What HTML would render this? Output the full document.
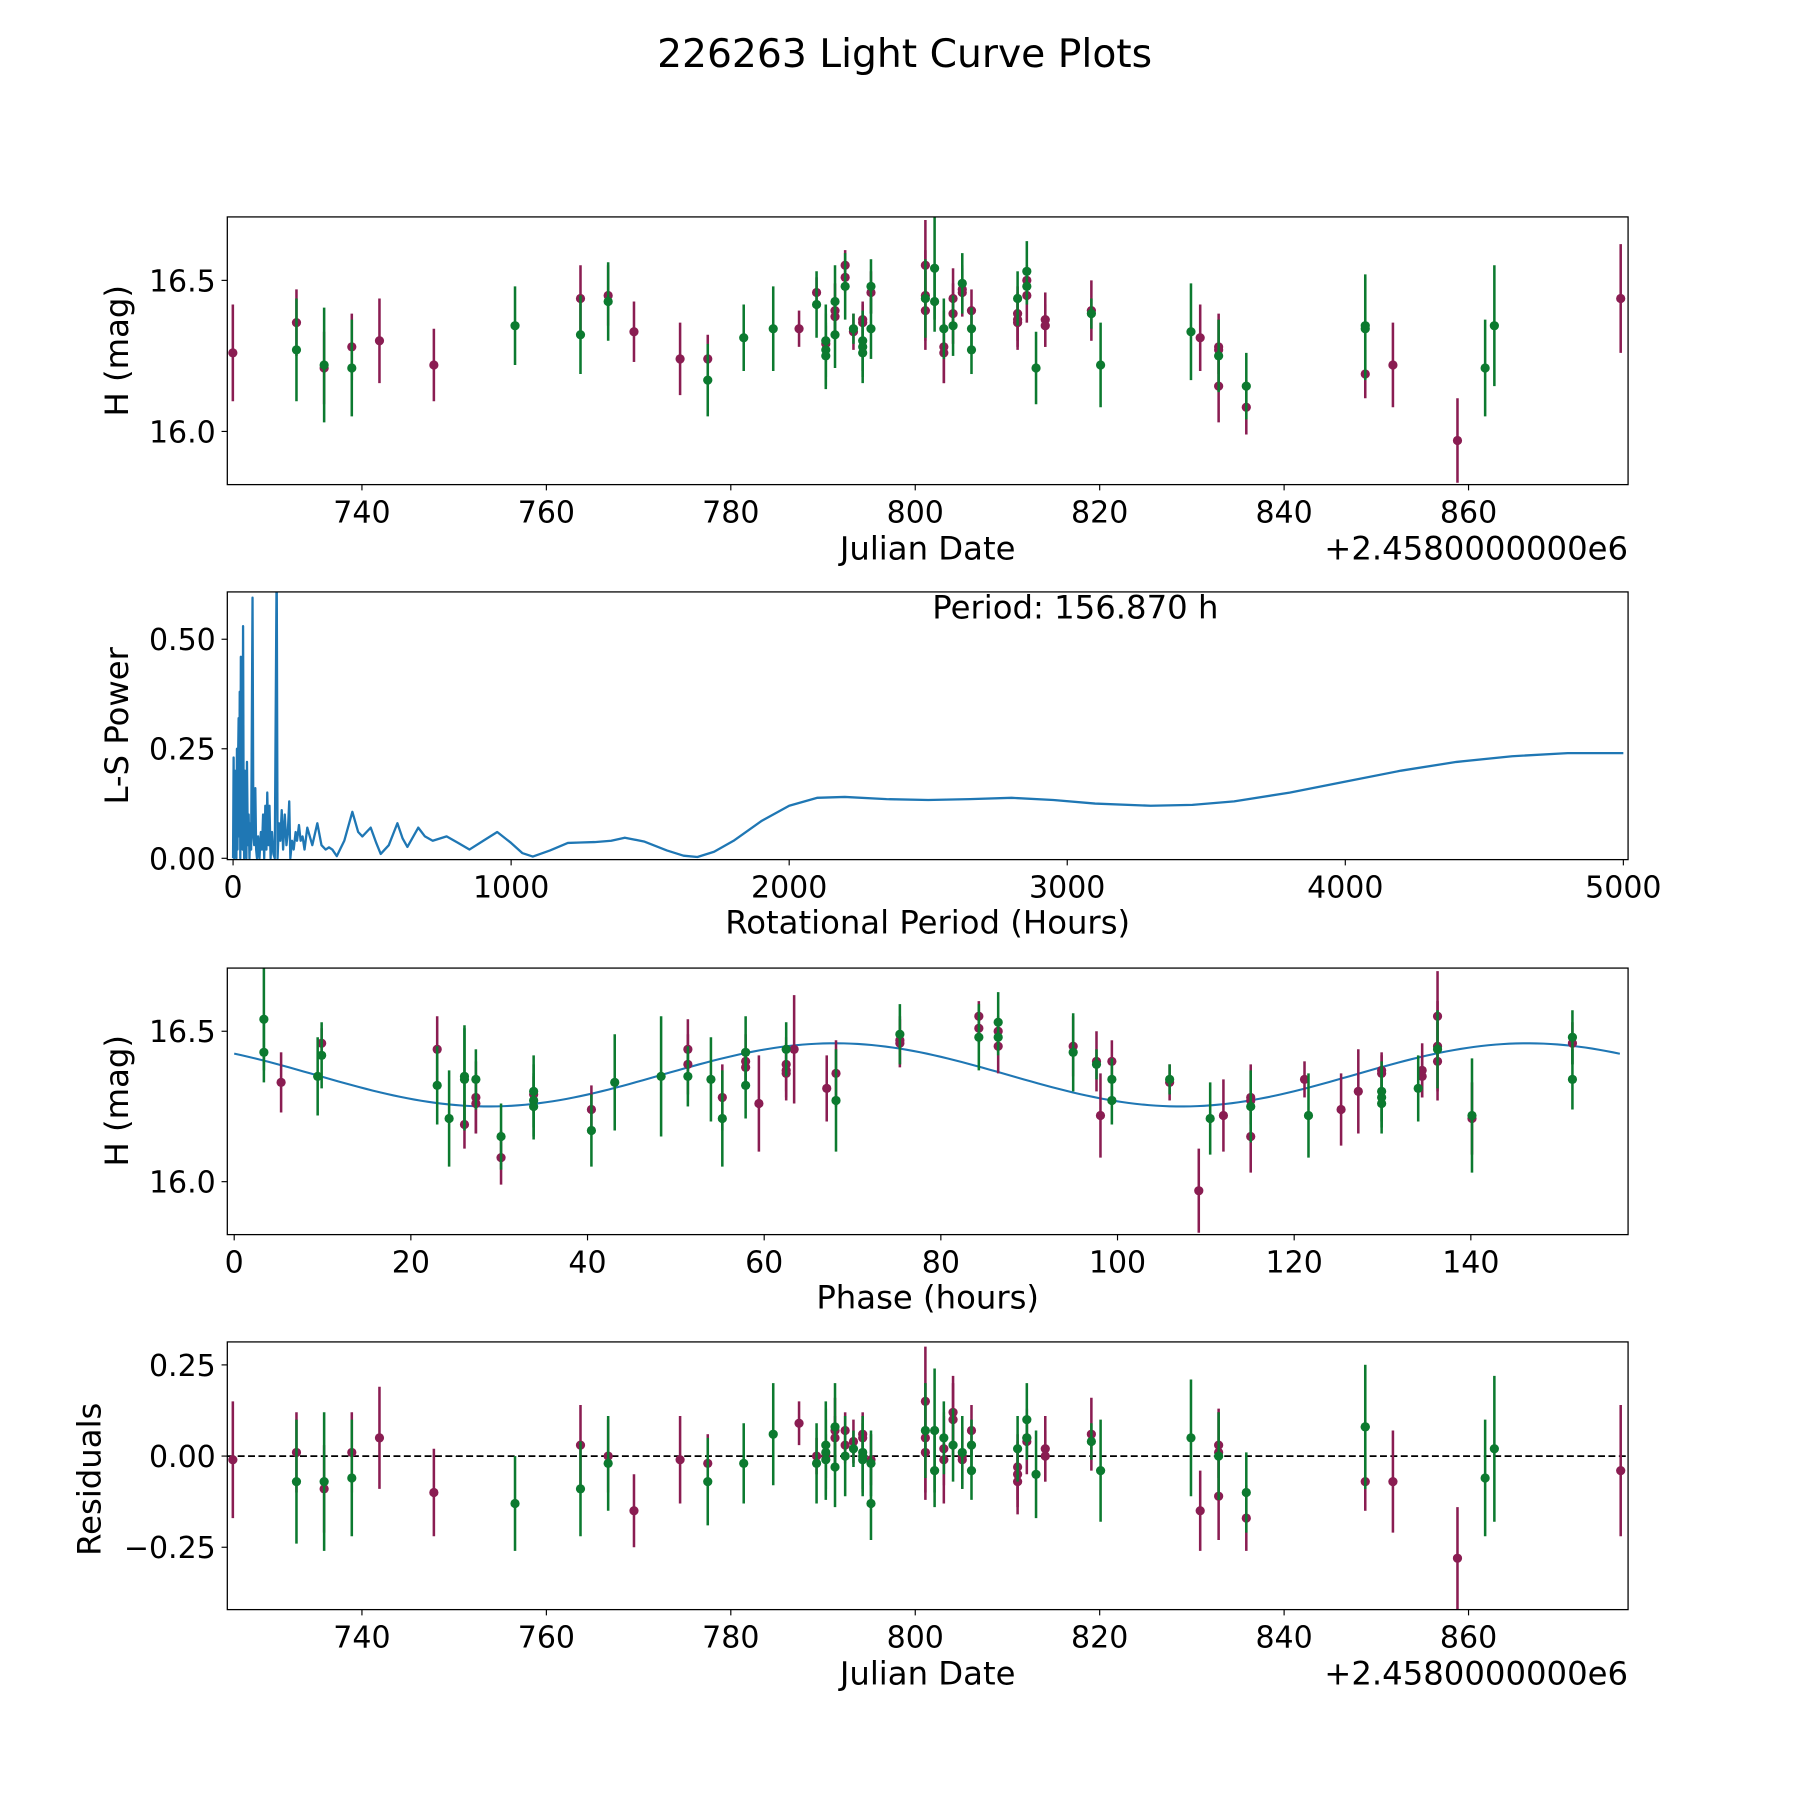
<!DOCTYPE html>
<html><head><meta charset="utf-8"><style>
html,body{margin:0;padding:0;background:#fff;}
svg{display:block;font-family:"DejaVu Sans","Liberation Sans",sans-serif;}
</style></head><body>
<svg id="fig" width="1800" height="1800" viewBox="0 0 1560 1560" xmlns="http://www.w3.org/2000/svg">
<rect width="1560" height="1560" fill="#fff"/>
<text x="784" y="58" font-size="34" text-anchor="middle">226263 Light Curve Plots</text>
<defs><clipPath id="clip2"><rect x="197" y="513" width="1214" height="232"/></clipPath>
<clipPath id="clip1"><rect x="197" y="188" width="1214" height="232"/></clipPath>
<clipPath id="clip3"><rect x="197" y="839" width="1214" height="231"/></clipPath>
<clipPath id="clip4"><rect x="197" y="1163" width="1214" height="232"/></clipPath></defs>
<g id="g1"></g>
<g id="g2"></g>
<g id="g3"></g>
<g id="g4"></g>
</svg>
<script>
// observation data
const jd = [726.0,732.9,732.9,735.9,735.9,738.9,738.9,741.9,747.8,756.6,763.7,763.7,766.7,766.7,769.5,774.5,777.5,777.5,781.4,784.6,787.4,789.3,789.3,790.3,790.3,790.3,790.3,791.3,791.3,791.3,791.3,792.4,792.4,792.4,793.3,793.3,794.3,794.3,794.3,794.3,794.3,795.2,795.2,795.2,801.1,801.1,801.1,801.1,802.1,802.1,803.1,803.1,803.1,804.1,804.1,804.1,805.1,805.1,805.1,806.1,806.1,806.1,811.1,811.1,811.1,811.1,812.1,812.1,812.1,812.1,813.1,814.1,814.1,819.1,819.1,820.1,829.9,830.9,832.9,832.9,832.9,832.9,835.9,835.9,848.8,848.8,848.8,851.8,858.8,861.8,862.8,876.5];
const mag = [16.26,16.36,16.27,16.22,16.21,16.28,16.21,16.30,16.22,16.35,16.44,16.32,16.43,16.45,16.33,16.24,16.24,16.17,16.31,16.34,16.34,16.46,16.42,16.30,16.27,16.25,16.29,16.38,16.40,16.32,16.43,16.55,16.51,16.48,16.33,16.34,16.37,16.36,16.30,16.28,16.26,16.48,16.46,16.34,16.55,16.45,16.40,16.44,16.54,16.43,16.34,16.28,16.26,16.44,16.39,16.35,16.49,16.47,16.46,16.40,16.34,16.27,16.44,16.39,16.37,16.36,16.53,16.50,16.45,16.48,16.21,16.37,16.35,16.40,16.39,16.22,16.33,16.31,16.28,16.27,16.25,16.15,16.15,16.08,16.35,16.34,16.19,16.22,15.97,16.21,16.35,16.44];
const magErr = [.16,.11,.17,.19,.12,.11,.16,.14,.12,.13,.11,.13,.13,.10,.10,.12,.08,.12,.11,.14,.06,.05,.11,.12,.12,.11,.06,.06,.09,.11,.12,.05,.05,.11,.06,.05,.06,.06,.10,.10,.10,.09,.07,.10,.15,.15,.13,.13,.17,.10,.10,.12,.10,.10,.10,.10,.10,.08,.08,.07,.07,.08,.09,.09,.09,.09,.10,.05,.09,.06,.12,.09,.07,.10,.05,.14,.16,.11,.09,.12,.12,.12,.11,.09,.17,.17,.08,.14,.14,.16,.20,.18];
const band = ['M','M','G','G','M','M','G','M','M','G','M','G','G','M','M','M','M','G','G','G','M','M','G','G','G','G','M','M','M','G','G','M','M','G','M','G','M','M','G','G','G','G','M','G','M','M','M','G','G','G','G','M','M','M','M','G','G','M','M','M','G','G','G','M','M','M','G','M','M','G','G','M','M','M','G','G','G','M','M','M','G','M','G','M','G','G','M','M','M','G','G','M'];
const resid = [-0.01,0.01,-0.07,-0.07,-0.09,0.01,-0.06,0.05,-0.10,-0.13,0.03,-0.09,-0.02,0.00,-0.15,-0.01,-0.02,-0.07,-0.02,0.06,0.09,0.00,-0.02,0.03,0.01,-0.01,0.00,0.05,0.07,-0.03,0.08,0.07,0.03,0.00,0.04,0.02,0.06,0.05,0.00,-0.01,0.01,-0.02,-0.01,-0.13,0.15,0.05,0.01,0.07,0.07,-0.04,0.05,-0.01,0.02,0.12,0.10,0.03,0.01,0.00,-0.01,0.07,0.03,-0.04,0.02,-0.03,-0.05,-0.07,0.10,0.05,0.04,0.05,-0.05,0.02,0.00,0.06,0.04,-0.04,0.05,-0.15,0.03,0.01,0.00,-0.11,-0.10,-0.17,0.08,0.08,-0.07,-0.07,-0.28,-0.06,0.02,-0.04];
// periodogram data
const lsPeriod = [0,2,4,6,8,10,12,14,16,18,20,22,24,26,28,30,32,34,36,38,40,42,44,46,48,50,53,56,59,62,65,70,73,76,80,83,86,90,95,100,104,108,112,116,120,123,127,131,135,140,145,150,156.87,160,165,170,175,180,186,192,197,202,206,212,218,225,230,237,243,250,257,267,285,303,318,333,345,357,373,400,429,450,465,495,515,531,560,591,610,627,666,690,718,768,810,850,900,950,1000,1040,1078,1140,1204,1250,1300,1360,1409,1480,1560,1620,1670,1730,1800,1900,2000,2100,2200,2350,2500,2650,2800,2950,3100,3300,3450,3600,3800,4000,4200,4400,4600,4800,5000];
const lsPower = [0,0.23,0.0,0.2,0.02,0.18,0.0,0.25,0.02,0.22,0.32,0.05,0.38,0.0,0.46,0.08,0.3,0.02,0.53,0.1,0.0,0.2,0.05,0.12,0.0,0.22,0.03,0.1,0.0,0.08,0.02,0.595,0.05,0.03,0.16,0.02,0.0,0.05,0.0,0.06,0.02,0.1,0.0,0.12,0.02,0.15,0.03,0.12,0.0,0.06,0.01,0.0,0.68,0.0,0.08,0.04,0.11,0.02,0.1,0.03,0.06,0.13,0.0,0.04,0.02,0.06,0.04,0.076,0.04,0.05,0.02,0.07,0.03,0.08,0.03,0.02,0.025,0.02,0.005,0.04,0.106,0.06,0.05,0.07,0.035,0.01,0.03,0.08,0.045,0.026,0.07,0.05,0.04,0.05,0.035,0.02,0.04,0.06,0.035,0.012,0.004,0.018,0.035,0.036,0.037,0.04,0.047,0.038,0.018,0.006,0.003,0.015,0.04,0.085,0.12,0.138,0.14,0.135,0.133,0.135,0.138,0.133,0.125,0.12,0.122,0.13,0.15,0.175,0.2,0.22,0.233,0.24,0.24];
const bestPeriod = 156.87;
const modelMean = 16.355, modelAmp = 0.105, modelPeak = 68, modelCycle = 78.4;
const epoch = 854.25;
const jdTicks = [740,760,780,800,820,840,860];
const magTicks = [16.0,16.5];
const lsXTicks = [0,1000,2000,3000,4000,5000];
const lsYTicks = [0,0.25,0.5];
const phaseTicks = [0,20,40,60,80,100,120,140];
const resTicks = [-0.25,0,0.25];

const NS='http://www.w3.org/2000/svg';
const COL={M:'#8a1d52',G:'#0c7a2f'};
const TF=26, LF=28;
function mk(tag,attrs,parent){const e=document.createElementNS(NS,tag);for(const k in attrs)e.setAttribute(k,attrs[k]);parent.appendChild(e);return e;}
function lin(d0,d1,r0,r1){return v=>r0+(v-d0)*(r1-r0)/(d1-d0);}
function model(p){return modelMean+modelAmp*Math.cos(2*Math.PI*(p-modelPeak)/modelCycle);}
function phaseOf(t){let p=((t-epoch)*24)%bestPeriod;if(p<0)p+=bestPeriod;return p;}

function frame(g,box,xs,ys,xt,yt,xfmt,yfmt){
  const ax=mk('rect',{x:box.l,y:box.t,width:box.r-box.l,height:box.b-box.t,fill:'none',stroke:'#000','stroke-width':1.1},g);
  
  
  xt.forEach(v=>{const x=xs(v);
    const tk=mk('line',{x1:x,x2:x,y1:box.b,y2:box.b+5,stroke:'#000','stroke-width':1},g);
    
    
    const tl=mk('text',{x:x,y:box.b+33,'font-size':TF,'text-anchor':'middle'},g);tl.textContent=xfmt(v);
    
    });
  yt.forEach(v=>{const y=ys(v);
    const tk=mk('line',{x1:box.l-5,x2:box.l,y1:y,y2:y,stroke:'#000','stroke-width':1},g);
    
    
    const tl=mk('text',{x:box.l-10,y:y+9.5,'font-size':TF,'text-anchor':'end'},g);tl.textContent=yfmt(v);
    
    });
}
function label(g,txt,x,y,rot,name,anchor){
  const t=mk('text',{x:x,y:y,'font-size':LF,'text-anchor':anchor||'middle'},g);
  if(rot)t.setAttribute('transform','rotate(-90 '+x+' '+y+')');
  t.textContent=txt;
  
  
}
function errPoints(g,xs,ys,xv,yv,ev,clip){
  const gg=mk('g',{'clip-path':'url(#'+clip+')'},g);
  ['M','G'].forEach(bd=>{
    for(let i=0;i<xv.length;i++){ if(band[i]!==bd)continue;
      const x=xs(xv[i]);
      const eb=mk('line',{x1:x,x2:x,y1:ys(yv[i]-ev[i]),y2:ys(yv[i]+ev[i]),stroke:COL[bd],'stroke-width':2.2},gg);
      
      
      const c=mk('circle',{cx:x,cy:ys(yv[i]),r:4,fill:COL[bd]},gg);
      
      
    }});
}
const L=197,R=1411;
const f1=v=>v.toFixed(1), f0=v=>String(v), f2=v=>(v<0?'\u22120.25':v.toFixed(2));

// Panel 1
(function(){const g=document.getElementById('g1');const box={l:L,r:R,t:188,b:420};
 const xs=lin(725.4,877.3,L,R), ys=lin(15.824,16.71,box.b,box.t);
 errPoints(g,xs,ys,jd,mag,magErr,'clip1');
 frame(g,box,xs,ys,jdTicks,magTicks,f0,f1);
 label(g,'Julian Date',804,485,false,'x-axis-title');
 label(g,'+2.4580000000e6',1411,485,false,'x-offset-label','end');
 label(g,'H (mag)',111,304,true,'y-axis-title');})();

// Panel 2
(function(){const g=document.getElementById('g2');const box={l:L,r:R,t:513,b:745};
 const xs=lin(-20.7,5017,L,R), ys=lin(-0.003,0.608,box.b,box.t);
 let d='';lsPeriod.forEach((p,i)=>{d+=(i?'L':'M')+xs(p).toFixed(2)+','+ys(lsPower[i]).toFixed(2);});
 const pl=mk('path',{d:d,fill:'none',stroke:'#1f77b4','stroke-width':2,'stroke-linejoin':'round','clip-path':'url(#clip2)'},g);
 
 
 frame(g,box,xs,ys,lsXTicks,lsYTicks,f0,v=>v.toFixed(2));
 label(g,'Period: '+bestPeriod.toFixed(3)+' h',932,536,false,'period-annotation');
 label(g,'Rotational Period (Hours)',804,809,false,'x-axis-title');
 label(g,'L-S Power',111,629,true,'y-axis-title');})();

// Panel 3
(function(){const g=document.getElementById('g3');const box={l:L,r:R,t:839,b:1070};
 const xs=lin(-0.78,157.8,L,R), ys=lin(15.824,16.71,box.b,box.t);
 let d='';for(let k=0;k<=200;k++){const p=bestPeriod*k/200;d+=(k?'L':'M')+xs(p).toFixed(2)+','+ys(model(p)).toFixed(2);}
 const ml=mk('path',{d:d,fill:'none',stroke:'#1f77b4','stroke-width':1.8},g);
 
 
 errPoints(g,xs,ys,jd.map(phaseOf),mag,magErr,'clip3');
 frame(g,box,xs,ys,phaseTicks,magTicks,f0,f1);
 label(g,'Phase (hours)',804,1134,false,'x-axis-title');
 label(g,'H (mag)',111,954,true,'y-axis-title');})();

// Panel 4
(function(){const g=document.getElementById('g4');const box={l:L,r:R,t:1163,b:1395};
 const xs=lin(725.4,877.3,L,R), ys=lin(-0.421,0.313,box.b,box.t);
 const zl=mk('line',{x1:L,x2:R,y1:ys(0),y2:ys(0),stroke:'#000','stroke-width':1.5,'stroke-dasharray':'6,3'},g);
 
 
 errPoints(g,xs,ys,jd,resid,magErr,'clip4');
 frame(g,box,xs,ys,jdTicks,resTicks,f0,f2);
 label(g,'Julian Date',804,1460,false,'x-axis-title');
 label(g,'+2.4580000000e6',1411,1460,false,'x-offset-label','end');
 label(g,'Residuals',87,1282,true,'y-axis-title');})();
</script>
</body></html>
